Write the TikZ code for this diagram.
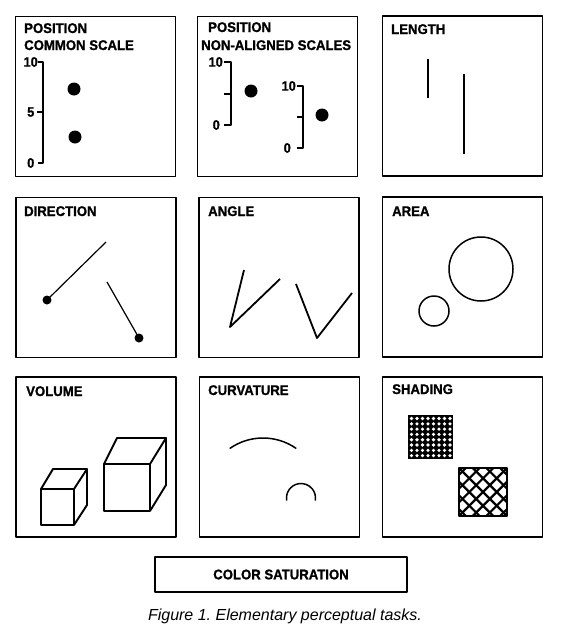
\documentclass[tikz,border=0pt]{standalone}
\usepackage{fontspec}
\setmainfont{Liberation Sans}
\newfontfamily\ttlfont{Liberation Sans Bold}[FakeStretch=0.94,FakeBold=1.2]
\usetikzlibrary{positioning}
\frenchspacing

\begin{document}
\begin{tikzpicture}[x=1pt,y=-1pt,line join=round,
  panel/.style={draw,line width=1.3pt,minimum width=160pt,minimum height=160pt,inner sep=0pt},
  ttl/.style={font=\ttlfont\fontsize{14}{17}\selectfont,anchor=base west,inner sep=0pt},
  num/.style={font=\ttlfont\fontsize{13.5}{15}\selectfont,anchor=east,inner sep=0pt},
  axis/.style={line width=1.2pt},
  stroke/.style={line width=1.5pt}]
  \useasboundingbox (0,0) rectangle (563,635);

  % the nine panels
  \foreach \name/\px/\py in {p1/95.5/96.5,p2/277.5/96.5,p3/462.5/96,
                             p4/96/277.5,p5/279/277.5,p6/462.5/277,
                             p7/96/457,p8/279.5/457,p9/462.5/457}
    \node[panel] (\name) at (\px,\py) {};

  \node[ttl] (t1a) at (24,33) {POSITION};
  \node[ttl] (t1b) at (24,50) {COMMON SCALE};
  \node[ttl] (t2a) at (208,32) {POSITION};
  \node[ttl] (t2b) at (201,50) {NON-ALIGNED SCALES};
  \node[ttl] (t3) at (391,34) {LENGTH};
  \node[ttl] (t4) at (24,216) {DIRECTION};
  \node[ttl] (t5) at (208,216) {ANGLE};
  \node[ttl] (t6) at (392,216) {AREA};
  \node[ttl] (t7) at (26,396) {VOLUME};
  \node[ttl] (t8) at (208,395) {CURVATURE};
  \node[ttl] (t9) at (392,394) {SHADING};

  % position, common scale
  \draw[axis] (38,62) -- (43,62) -- (43,163) -- (38,163) (37,112) -- (43,112);
  \node[num] (s10) at (38,62) {10};
  \node[num] (s5) at (34.5,112) {5};
  \node[num] (s0) at (34.5,163) {0};
  \fill (74,89) circle (6.5) (75,137) circle (6.5);

  % position, non-aligned scales
  \draw[axis] (224,62) -- (231,62) -- (231,125) -- (224,125) (224,94) -- (231,94);
  \node[num] (a10) at (223,62) {10};
  \node[num] (a0) at (220,125) {0};
  \fill (251,91) circle (6.5);
  \draw[axis] (297,86) -- (303,86) -- (303,148) -- (297,148) (297,117) -- (303,117);
  \node[num] (b10) at (296,86) {10};
  \node[num] (b0) at (291,148) {0};
  \fill (322,115) circle (6.5);

  % length
  \draw[stroke] (428,59) -- (428,98) (464,74) -- (464,154);

  % direction
  \fill (47,300) circle (4.5) (139,338) circle (4.5);
  \draw[axis] (47,300) -- (106,242) (107,282) -- (139,338);

  % angle
  \draw[line width=1.8pt] (244,270) -- (230,327) -- (280,279);
  \draw[line width=1.8pt] (296,284) -- (317,338) -- (352,293);

  % area
  \draw[stroke] (481,269) circle (32) (434,311) circle (15);

  % volume
  \draw[line width=1.9pt] (41,489) rectangle (74,525)
    (41,489) -- (53,469) -- (87,469) -- (74,489)
    (74,525) -- (87,505) -- (87,469);
  \draw[line width=1.9pt] (104,464) rectangle (150,511)
    (104,464) -- (117,438) -- (166,438) -- (150,464)
    (150,511) -- (166,485) -- (166,438);

  % curvature
  \draw[stroke] (263,496) ++(235:58) arc[start angle=235,end angle=305,radius=58];
  \draw[stroke] (301,498) ++(170:14.5) arc[start angle=170,end angle=370,radius=14.5];

  % shading
  \fill (408,415) rectangle (453,459);
  \foreach \i in {0,...,7}
    \foreach \j in {0,...,7}
      \fill[white] (411.5+\i*5.5,418.5+\j*5.3) circle (1.8);
  \begin{scope}
    \clip (459,468) rectangle (507,516);
    \foreach \k in {-4,...,4} {
      \draw[line width=2.2pt] (483+\k*13.7-40,452) -- (483+\k*13.7+40,532);
      \draw[line width=2.2pt] (483+\k*13.7+40,452) -- (483+\k*13.7-40,532);
    }
  \end{scope}
  \draw[line width=2.6pt] (459,468) rectangle (507,516);

  % color saturation
  \node[panel,minimum width=252pt,minimum height=35pt,
        font=\ttlfont\fontsize{14}{15}\selectfont] (sat) at (281,574.5) {COLOR SATURATION};

  \node[font=\itshape\fontsize{16}{19}\selectfont,anchor=base,inner sep=0pt] (cap) at (285,620)
    {Figure 1. Elementary perceptual tasks.};
\end{tikzpicture}
\end{document}
